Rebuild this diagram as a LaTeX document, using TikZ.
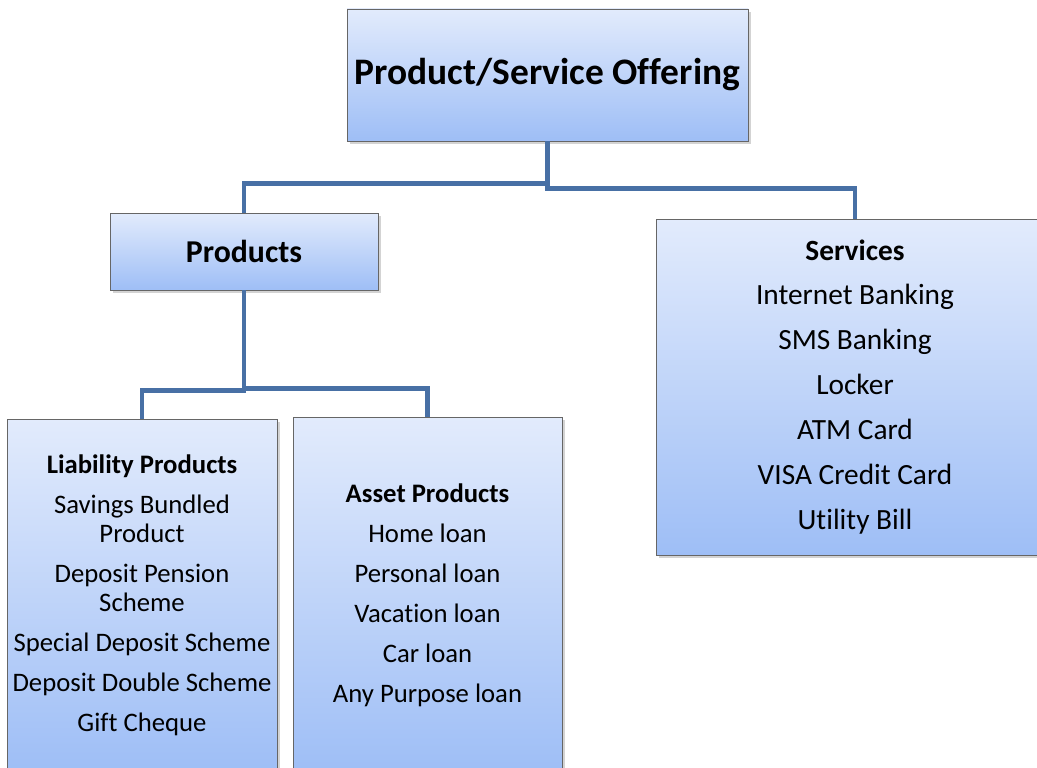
\documentclass[tikz,border=0pt]{standalone}
\usepackage{fontspec}
\setmainfont{Carlito}[Ligatures=NoCommon]
\usetikzlibrary{shadows}
\definecolor{boxtop}{RGB}{226,235,252}
\definecolor{boxbot}{RGB}{158,190,246}
\definecolor{linkblue}{RGB}{72,112,165}
\tikzset{
  box/.style = {rectangle, draw=black!60, line width=0.5pt,
                top color=boxtop, bottom color=boxbot,
                drop shadow={shadow xshift=1.5pt, shadow yshift=-1.5pt, opacity=0.35},
                align=center, inner sep=0pt},
  branch/.style = {draw=linkblue, line width=2.8pt}
}

\begin{document}
\begin{tikzpicture}[x=0.02cm, y=-0.02cm]
	\def\px{0.02cm}
	\def\bodyfont{\fontsize{15.2}{16.5}\selectfont}
	\def\servfont{\fontsize{16.7}{18.4}\selectfont}
	\def\gap{6.3pt}  % between list items
	\def\sgap{7.2pt} % services list
	
	\useasboundingbox (0,0) rectangle (1037,767);
	\clip (0,0) rectangle (1037,767);
	
	% Top level
	\node[box, minimum width=401*\px, minimum height=132*\px,
	      font=\fontsize{21.3}{25}\selectfont\bfseries] (offer) at (547.5,75) {Product/Service Offering};
	
	% Second level
	\node[box, minimum width=268*\px, minimum height=77*\px,
	      font=\fontsize{18.1}{21}\selectfont\bfseries] (prod) at (244,251.5) {Products};
	\node[box, minimum width=398*\px, minimum height=336*\px, font=\servfont] (serv) at (855,387)
	      {\textbf{Services}\\[\sgap] Internet Banking\\[\sgap] SMS Banking\\[\sgap] Locker\\[\sgap]
	       ATM Card\\[\sgap] VISA Credit Card\\[\sgap] Utility Bill};
	
	% Third level
	\node[box, minimum width=270*\px, minimum height=352*\px, font=\bodyfont] (liab) at (142,595)
	      {\textbf{Liability Products}\\[\gap] Savings Bundled\\ Product\\[\gap] Deposit Pension\\ Scheme\\[\gap]
	       Special Deposit Scheme\\[\gap] Deposit Double Scheme\\[\gap] Gift Cheque};
	\node[box, minimum width=269*\px, minimum height=356*\px, font=\bodyfont] (asset) at (427.5,595)
	      {\textbf{Asset Products}\\[\gap] Home loan\\[\gap] Personal loan\\[\gap] Vacation loan\\[\gap]
	       Car loan\\[\gap] Any Purpose loan};
	
	% Connectors
	\draw[branch] (offer.south) -- ++(0,42) -| (prod.north);
	\draw[branch] (offer.south) -- ++(0,47) -| (serv.north);
	\draw[branch] (prod.south) -- ++(0,100) -| (liab.north);
	\draw[branch] (prod.south) -- ++(0,98) -| (asset.north);
	
\end{tikzpicture}
\end{document}
